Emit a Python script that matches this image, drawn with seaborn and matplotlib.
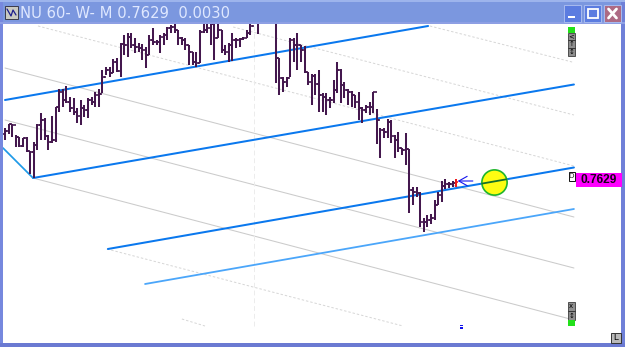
import numpy as np
import pandas as pd
import seaborn as sns
import matplotlib
matplotlib.use("Agg")
import matplotlib.pyplot as plt
from matplotlib.patches import Rectangle

# Hourly bars, prices stored in pips (price = pips / 10000)
high_pips = [
    7737, 7745, 7745, 7723, 7719, 7717, 7719, 7691, 7709, 7745,
    7767, 7757, 7723, 7761, 7779, 7815, 7815, 7821, 7799, 7797,
    7777, 7793, 7783, 7797, 7799, 7809, 7815, 7853, 7859, 7859,
    7875, 7877, 7907, 7923, 7927, 7927, 7917, 7907, 7905, 7899,
    7923, 7937, 7913, 7923, 7927, 7939, 7943, 7945, 7933, 7919,
    7917, 7903, 7889, 7889, 7933, 7949, 7949, 7949, 7949, 7949,
    7933, 7903, 7907, 7927, 7917, 7917, 7919, 7933, 7949, 7973,
    7953, 7977, 7983, 7981, 7985, 7963, 7877, 7839, 7839, 7917,
    7917, 7927, 7903, 7901, 7849, 7845, 7845, 7853, 7807, 7807,
    7799, 7833, 7869, 7855, 7829, 7815, 7811, 7803, 7809, 7779,
    7783, 7789, 7809, 7775, 7737, 7737, 7755, 7753, 7723, 7729,
    7697, 7727, 7695, 7619, 7619, 7609, 7557, 7563, 7565, 7593,
    7609, 7631, 7635, 7629, 7631, 7635,
]
low_pips = [
    7713, 7725, 7719, 7699, 7699, 7699, 7689, 7645, 7637, 7693,
    7713, 7713, 7693, 7707, 7709, 7769, 7779, 7787, 7769, 7763,
    7747, 7743, 7759, 7757, 7783, 7779, 7779, 7807, 7843, 7839,
    7847, 7849, 7839, 7883, 7879, 7897, 7887, 7889, 7873, 7857,
    7883, 7903, 7903, 7887, 7903, 7913, 7927, 7927, 7903, 7903,
    7893, 7863, 7863, 7859, 7867, 7927, 7927, 7903, 7873, 7917,
    7887, 7883, 7869, 7871, 7897, 7899, 7913, 7917, 7923, 7949,
    7925, 7953, 7957, 7953, 7957, 7827, 7803, 7809, 7819, 7839,
    7869, 7853, 7869, 7847, 7823, 7783, 7803, 7769, 7769, 7763,
    7777, 7787, 7807, 7787, 7797, 7783, 7779, 7777, 7753, 7747,
    7767, 7763, 7767, 7705, 7677, 7717, 7717, 7707, 7677, 7689,
    7683, 7663, 7567, 7583, 7599, 7539, 7529, 7539, 7545, 7553,
    7583, 7589, 7615, 7617, 7619, 7619,
]
close_pips = [
    7731, 7745, 7743, 7719, 7701, 7717, 7691, 7689, 7703, 7743,
    7753, 7721, 7709, 7713, 7779, 7809, 7793, 7789, 7777, 7769,
    7761, 7777, 7773, 7793, 7789, 7803, 7805, 7839, 7853, 7847,
    7869, 7851, 7905, 7903, 7919, 7903, 7899, 7897, 7893, 7883,
    7913, 7909, 7909, 7919, 7923, 7937, 7939, 7933, 7917, 7913,
    7903, 7889, 7869, 7867, 7929, 7933, 7937, 7945, 7917, 7933,
    7893, 7889, 7903, 7913, 7913, 7915, 7917, 7927, 7941, 7963,
    7949, 7969, 7973, 7965, 7973, 7877, 7837, 7829, 7837, 7913,
    7903, 7903, 7893, 7849, 7829, 7841, 7825, 7803, 7799, 7793,
    7793, 7813, 7853, 7823, 7813, 7809, 7803, 7789, 7777, 7773,
    7779, 7779, 7809, 7753, 7733, 7729, 7749, 7721, 7713, 7697,
    7693, 7695, 7613, 7609, 7607, 7549, 7549, 7553, 7557, 7583,
    7603, 7621, 7625, 7625, 7627, 7629,
]
net_change = 0.0030

# Trend lines as (start bar, end bar) and (start pips, end pips)
channel_lines = {
    "upper":  ([0.0, 117.2], [7793, 7941]),
    "middle": ([7.76, 157.6], [7637, 7824]),
    "lower":  ([28.5, 157.6], [7495, 7658]),
}
support_line = ([38.8, 157.6], [7425, 7575])
entry_leg = ([-0.55, 7.76], [7697, 7637])
fan_solid = {
    "a": ([0.0, 157.6], [7857, 7559]),
    "b": ([0.0, 157.6], [7753, 7457]),
    "c": ([7.76, 157.6], [7637, 7353]),
}
fan_dotted = {
    "d": ([9.14, 157.6], [7941, 7661]),
    "e": ([63.2, 157.6], [7939, 7763]),
    "f": ([117.7, 157.1], [7941, 7869]),
    "g": ([28.25, 110.25], [7495, 7341]),
    "h": ([49.0, 55.4], [7355, 7341]),
}
session_bar = 69
session_span = [7941, 7341]
target_bar, target_pips = 135.5, 7628
target_span = (132.2, 138.8)
arrow_bars, arrow_pips = (129.6, 125.4), 7631

WIDTH, HEIGHT = 625, 347
sns.set_theme(style="white")
plt.rcParams["font.family"] = ["Liberation Sans", "DejaVu Sans"]

fig = plt.figure(figsize=(WIDTH / 100, HEIGHT / 100), dpi=100, facecolor="white")
ax = fig.add_axes([0, 0, 1, 1])
ax.set_xlim(-1.385, 171.75)
ax.set_ylim(0.7299, 0.7993)
ax.axis("off")

high = np.array(high_pips) / 1e4
low = np.array(low_pips) / 1e4
close = np.array(close_pips) / 1e4
open_ = pd.Series(close).shift(1).fillna(0.7725).to_numpy()
bars = np.arange(len(close))


def trend(line, color, width, **kw):
    frame = pd.DataFrame({"bar": line[0], "price": np.array(line[1]) / 1e4})
    sns.lineplot(data=frame, x="bar", y="price", color=color, linewidth=width,
                 estimator=None, legend=False, ax=ax, **kw)


for line in fan_solid.values():
    trend(line, "#cbcbcb", 0.75, zorder=1)
for line in fan_dotted.values():
    trend(line, "#d6d6d6", 0.7, zorder=1, linestyle=(0, (2.5, 2)))
ax.vlines(session_bar, session_span[1] / 1e4, session_span[0] / 1e4,
          color="#ececec", lw=0.7, linestyles=(0, (5, 3)), zorder=1)

for line in channel_lines.values():
    trend(line, "#0a78ee", 1.45, zorder=2)
trend(support_line, "#4ba6fa", 1.3, zorder=2)
trend(entry_leg, "#1f9ae8", 1.25, zorder=2)

# OHLC bars: the final one is still forming and is drawn in red
colors = ["#44184e"] * (len(close) - 1) + ["#ee1c1c"]
ax.vlines(bars, low, high, colors=colors, lw=1.45, zorder=3)
ax.hlines(open_, bars - 0.62, bars, colors=colors, lw=1.2, zorder=3)
ax.hlines(close, bars, bars + 0.62, colors=colors, lw=1.2, zorder=3)

sns.scatterplot(x=[target_bar], y=[target_pips / 1e4], s=330, ax=ax, legend=False,
                facecolor="#fdfd12", edgecolor="#1fb52c", linewidth=1.2, zorder=4)
# The lower channel line shows through the target disc as a darker stroke
through = np.interp(target_span, *channel_lines["lower"]) / 1e4
ax.plot(target_span, through, color="#14702a", lw=1.3, zorder=5)
ax.annotate("", xy=(arrow_bars[1], arrow_pips / 1e4), xytext=(arrow_bars[0], arrow_pips / 1e4),
            arrowprops=dict(arrowstyle="->,head_length=0.5,head_width=0.28",
                            color="#1414ee", lw=0.8, shrinkA=0, shrinkB=0), zorder=4)

# Window frame and on-chart widgets, laid out in screen pixels
ui = fig.add_axes([0, 0, 1, 1], zorder=5)
ui.set_xlim(0, WIDTH)
ui.set_ylim(HEIGHT, 0)
ui.axis("off")
ui.patch.set_alpha(0)


def box(x, y, w, h, face, edge="none", lw=0.0, z=5):
    ui.add_patch(Rectangle((x, y), w, h, facecolor=face, edgecolor=edge, linewidth=lw, zorder=z))


box(0, 0, WIDTH, 24, "#7b97df")
box(0, 0, WIDTH, 2, "#9db4ec", z=6)
box(0, 21.5, WIDTH, 2.5, "#8d9fe4", z=6)
box(0, 0, 3, HEIGHT, "#7688de")
box(621, 0, 4, HEIGHT, "#6f80d8")
box(0, 343, WIDTH, 4, "#6b7ad2")

# System icon
box(5, 6, 13, 13, "#c9c9c2", "#3a3a4a", 0.7, z=6)
ui.plot([7, 11, 13, 16], [9, 16, 10, 15], color="#1c1c8c", lw=0.9, zorder=7)
ui.text(20, 13.5, f"NU 60- W- M {close[-1]:.4f}  {net_change:.4f}", color="#dfe8ff",
        fontsize=10.6, family="DejaVu Sans", va="center", ha="left", zorder=7)

# Caption buttons
for left, face in ((564, "#5b7ce0"), (584, "#5b7ce0"), (604, "#ad6a84")):
    box(left, 5, 17, 17, face, "#a8bbef", 0.7, z=6)
box(568, 16, 7, 2.2, "white", z=7)
box(588, 9, 10, 9, "none", "white", 1.3, z=7)
ui.plot([608.5, 616.5], [9, 18], color="white", lw=2.0, zorder=7)
ui.plot([608.5, 616.5], [18, 9], color="white", lw=2.0, zorder=7)

# Scale widgets on the right edge
box(568, 27, 6.5, 5.5, "#22e01a")
for top, sign in ((32.5, "<"), (40, "↑"), (48, "↕")):
    box(568, top, 6.5, 7.5, "#8e8e8e", "#202020", 0.5)
    ui.text(571.2, top + 3.8, sign, fontsize=5, color="black", ha="center", va="center",
            family="DejaVu Sans", zorder=6)
for top, sign in ((302, "x"), (311, "↕")):
    box(568, top, 6.5, 9, "#8e8e8e", "#202020", 0.5)
    ui.text(571.2, top + 4.5, sign, fontsize=5, color="black", ha="center", va="center",
            family="DejaVu Sans", zorder=6)
box(568, 320, 6.5, 6, "#22e01a")
box(568.5, 172, 6, 9, "white", "#111111", 0.7)
ui.text(571.5, 176.5, "D", fontsize=5.5, color="#222222", ha="center", va="center", zorder=6)

# Last price flag
box(576, 173, 46, 14, "#ff00ff")
ui.text(599, 180, f"{close[-1]:.4f}", fontsize=8.6, fontweight="bold", color="#180018",
        ha="center", va="center", family="Liberation Sans", zorder=6)

# Small blue marker under the bars and the lock box
box(459.5, 325, 3.5, 1.2, "#1010ee")
box(459.5, 327, 3.5, 2, "#1010ee")
box(611, 333, 10, 10, "#b9b9b9", "#333333", 0.7)
ui.text(616, 338, "L", fontsize=6.5, color="black", ha="center", va="center", zorder=6)

fig.savefig("out.png", dpi=100)
